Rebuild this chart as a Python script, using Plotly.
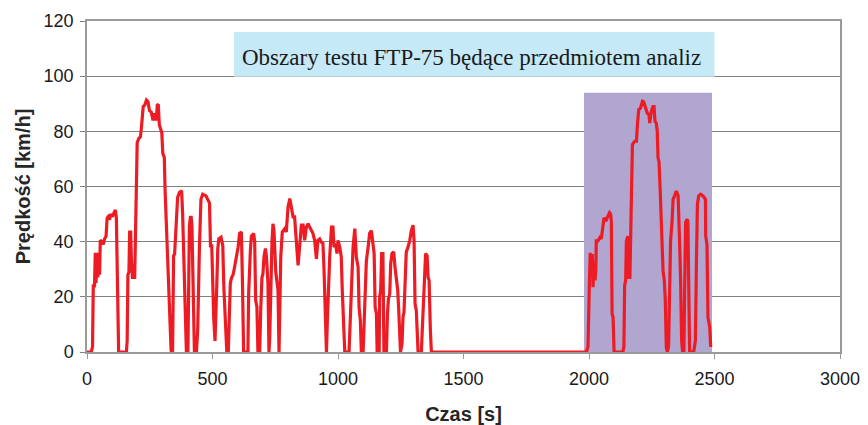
import plotly.graph_objects as go

# Phase 1 + 2 (cold start + stabilised), time [s] and speed [km/h]
t_phase12 = [0, 17, 22, 25, 30, 33, 36, 40, 43, 47, 50, 53, 60, 65, 70, 76, 80, 84, 90, 94,
             100, 108, 113, 117, 120, 123, 126, 157, 160, 163, 167, 170, 174, 177, 181, 190,
             193, 197, 200, 207, 213, 217, 221, 224, 230, 237, 243, 249, 256, 263, 269, 276,
             280, 284, 288, 298, 302, 308, 311, 315, 322, 328, 335, 341, 345, 349, 355, 361,
             368, 377, 381, 385, 388, 392, 396, 402, 405, 408, 412, 415, 418, 421, 424, 428,
             436, 441, 448, 454, 461, 474, 488, 492, 497, 501, 505, 510, 514, 517, 521, 525,
             534, 541, 545, 551, 557, 563, 567, 571, 576, 582, 588, 595, 602, 608, 615, 619,
             621, 624, 641, 644, 651, 655, 664, 668, 672, 677, 681, 688, 692, 697, 701, 705,
             711, 715, 721, 725, 728, 732, 737, 741, 745, 752, 761, 765, 768, 772, 778, 788,
             794, 801, 808, 814, 821, 827, 834, 841, 847, 854, 861, 867, 874, 881, 887, 894,
             900, 907, 914, 920, 927, 934, 940, 944, 947, 951, 954, 958, 963, 967, 974, 980,
             984, 990, 996, 1000, 1007, 1013, 1017, 1023, 1027, 1044, 1047, 1053, 1060, 1067,
             1073, 1080, 1084, 1089, 1093, 1100, 1104, 1109, 1113, 1120, 1126, 1133, 1140,
             1144, 1148, 1153, 1156, 1164, 1166, 1170, 1174, 1179, 1183, 1193, 1197, 1201,
             1206, 1210, 1215, 1222, 1227, 1233, 1238, 1242, 1246, 1249, 1255, 1259, 1263,
             1268, 1272, 1279, 1286, 1292, 1299, 1303, 1307, 1312, 1319, 1332, 1336, 1341,
             1345, 1349, 1355, 1359, 1363, 1365, 1368, 1372]
v_phase12 = [0, 0, 2, 24, 24, 36, 25, 36, 27, 36, 28, 40.5, 40, 39, 41, 42, 48.5, 49, 48, 50,
             49, 51, 51.5, 48.5, 24, 21, 0, 0, 4, 28, 29, 43.5, 43.5, 33, 27, 27,
             43.5, 66, 76, 77.5, 78, 81.5, 84.5, 89, 89.5, 91.3, 90.7, 87.5, 87, 84, 86.5, 84,
             89.5, 89.8, 82.5, 79.5, 72, 70.5, 59, 48, 30.7, 15.7, 0.5, 0, 35, 35.5, 48, 56,
             57.8, 58.4, 50, 36.7, 33.7, 12, 0, 0, 23, 45.8, 48.8, 48.8, 45.8, 33.7, 24, 0,
             0, 8, 38.5, 55.4, 57.2, 56.6, 54, 38.5, 38.5, 20.5, 12, 4, 12, 24, 37.3, 41,
             41.6, 38.5, 24, 8.4, 0, 0, 15, 25, 27, 28, 30.8, 34.5, 38, 43, 43.5, 27,
             20, 0, 0, 21, 37, 42, 43, 40, 18.7, 16.3, 0, 0, 15, 27, 28.4, 34.5,
             37.5, 34.5, 24.8, 0, 5, 26, 40, 46.5, 44, 29, 22.4, 0, 14, 34.5, 43.5, 44.7,
             43.5, 52.6, 55.6, 52, 49, 49, 41.7, 31.4, 38, 46, 46, 40.5, 45.3, 46.5, 45.3, 44,
             43, 40.5, 33.8, 40.5, 41, 39.8, 39.3, 30.8, 17.5, 7.9, 0, 12.7, 26, 34.5, 45.3, 45.3,
             38, 39.3, 35.7, 40.5, 38, 34.5, 22.4, 10.3, 0, 0, 7.9, 26, 38, 44.7,
             34.5, 30.8, 16.3, 11.5, 0, 0, 11.5, 26, 33, 38, 43, 44, 38,
             35.7, 16.3, 14, 0, 0, 20, 22.4, 35.7, 35.7, 0, 0, 14, 19.3,
             21, 32, 35.7, 36.3, 30.8, 26, 22.4, 15, 6.6, 0, 3, 12.7, 14.5,
             30.8, 36.3, 38, 40.5, 44, 46, 40.5, 17.5, 15, 0, 0, 9, 21,
             29.6, 35.7, 35, 27, 26, 15, 7.9, 0]

# Phase 3 (hot start, after the 10-minute soak)
t_phase3 = [1990, 1996, 1999, 2002, 2005, 2009, 2013, 2016, 2020, 2024, 2027, 2029, 2036, 2043,
            2049, 2056, 2060, 2067, 2076, 2082, 2086, 2089, 2092, 2096, 2100, 2135, 2139, 2142,
            2146, 2149, 2155, 2159, 2163, 2166, 2169, 2173, 2182, 2189, 2193, 2198, 2205, 2209,
            2213, 2218, 2226, 2232, 2239, 2242, 2248, 2255, 2259, 2263, 2268, 2272, 2275, 2279,
            2284, 2289, 2295, 2300, 2304, 2308, 2312, 2317, 2321, 2325, 2331, 2335, 2341, 2348,
            2355, 2359, 2361, 2365, 2369, 2373, 2378, 2381, 2385, 2390, 2394, 2397, 2401, 2417,
            2424, 2428, 2432, 2437, 2445, 2454, 2464, 2465, 2470, 2474, 2481, 2485]
v_phase3 = [0, 2, 26, 27, 36, 27, 35.5, 23.5, 32.5, 26, 29.5, 40.3, 40.3, 41.5,
            41, 47.5, 48.7, 47.5, 49.3, 50.5, 50, 47.5, 13.8, 12.6, 0, 0, 2, 24,
            26, 40.3, 42, 27, 27, 40, 62, 75.2, 76.4, 76.4, 82.4, 87.8, 88.4, 90.3,
            90.9, 90.7, 87.8, 86.6, 86, 83, 87.2, 89, 89, 83.6, 83, 80, 70.4, 69,
            57.8, 47.5, 29.5, 26, 18.7, 1.8, 0, 2, 26, 40.3, 47.5, 55.4, 56.6, 58.4,
            56.6, 47.5, 39.7, 26, 4.2, 0, 0, 21.7, 47, 48.1, 47.5, 26, 0, 0,
            4.2, 33, 53.5, 56.6, 57.2, 56.6, 55.4, 42, 39, 12.6, 9, 1.8]

# Highlighted analysis region and label box
highlight_x = [1980, 2490]
highlight_top = 94
label_box_x = [585, 2500]
label_box_y = [99.8, 116]
label_text = "Obszary testu FTP-75 będące przedmiotem analiz"

x_ticks = [0, 500, 1000, 1500, 2000, 2500, 3000]
y_ticks = [0, 20, 40, 60, 80, 100, 120]

fig = go.Figure()
fig.add_trace(go.Scatter(
    x=t_phase12 + t_phase3,
    y=v_phase12 + v_phase3,
    mode="lines",
    line=dict(color="#ED1C24", width=3.2),
    hoverinfo="x+y",
    showlegend=False,
))

fig.add_shape(type="rect", xref="x", yref="y",
              x0=highlight_x[0], x1=highlight_x[1], y0=0, y1=highlight_top,
              fillcolor="#B0A6D0", line=dict(width=0), layer="between")
fig.add_shape(type="rect", xref="x", yref="y",
              x0=label_box_x[0], x1=label_box_x[1], y0=label_box_y[0], y1=label_box_y[1],
              fillcolor="#C6E9F8", line=dict(width=0), layer="above")
fig.add_annotation(x=1532, y=106.6, xref="x", yref="y", text=label_text,
                   showarrow=False, xanchor="center", yanchor="middle",
                   font=dict(family="Liberation Serif, Times New Roman, serif", size=23, color="#1a1a1a"))

axis_font = dict(family="Liberation Sans, Arial, sans-serif", size=18, color="#1a1a1a")
title_font = dict(family="Liberation Sans, Arial, sans-serif", size=20, color="#262626")

# The page body has an 8px default margin, so the figure is sized/offset to compensate
fig.update_layout(
    width=860, height=417,
    margin=dict(l=79, r=28, t=13, b=73, autoexpand=False),
    paper_bgcolor="white", plot_bgcolor="white",
    showlegend=False,
    xaxis=dict(
        range=[0, 3000], tickmode="array", tickvals=x_ticks, ticktext=[str(v) for v in x_ticks],
        showgrid=False, zeroline=False, showline=True, linecolor="#9a9a9a", linewidth=1.5,
        mirror=True, ticks="outside", ticklen=5, tickcolor="#9a9a9a", tickfont=axis_font,
        ticklabelstandoff=5, automargin=False, ticklabeloverflow="allow",
        title=dict(text="<b>Czas [s]</b>", font=title_font, standoff=20),
    ),
    yaxis=dict(
        range=[0, 120], tickmode="array", tickvals=y_ticks, ticktext=[str(v) for v in y_ticks],
        showgrid=True, gridcolor="#808080", gridwidth=1, zeroline=False,
        showline=True, linecolor="#9a9a9a", linewidth=1.5, mirror=True,
        ticks="outside", ticklen=5, tickcolor="#808080", tickfont=axis_font,
        ticklabelstandoff=3, automargin=False,
        title=dict(text="<b>Prędkość [km/h]</b>", font=title_font, standoff=8),
    ),
)

fig.write_html("out.html")
